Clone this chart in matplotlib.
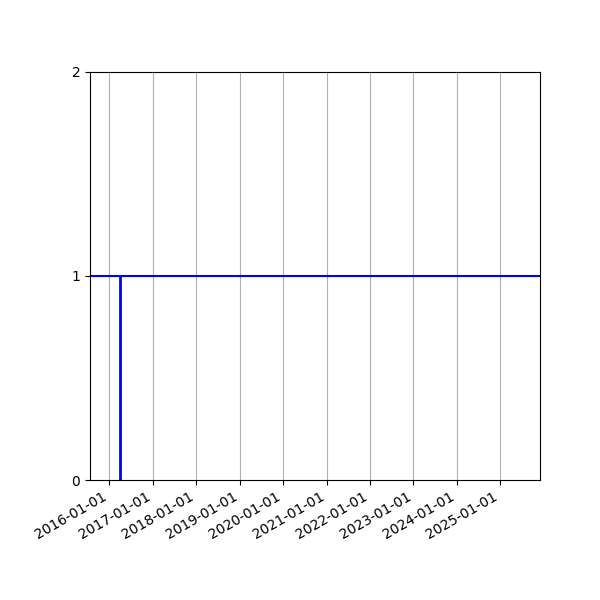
import matplotlib
matplotlib.use("Agg")
import matplotlib.pyplot as plt
import matplotlib.dates as mdates
import numpy as np

# data
event_dates = np.array(["2016-04-01"], dtype="datetime64[D]")
event_heights = [1]
baseline_level = 1
year_ticks = np.array([f"{y}-01-01" for y in range(2016, 2026)], dtype="datetime64[D]")
x_range = np.array(["2015-07-23", "2025-12-01"], dtype="datetime64[D]")
y_ticks = [0, 1, 2]

fig = plt.figure(figsize=(6, 6), dpi=100)
ax = fig.add_axes([0.15, 0.2, 0.75, 0.68])

ax.axhline(baseline_level, color="blue", lw=1.5)
ax.vlines(event_dates, 0, event_heights, color="blue", lw=2)

ax.set_xlim(x_range[0], x_range[1])
ax.set_ylim(0, 2)
ax.set_yticks(y_ticks)
ax.set_xticks(year_ticks)
ax.xaxis.set_major_formatter(mdates.DateFormatter("%Y-%m-%d"))
ax.grid(True, axis="x")

for lab in ax.get_xticklabels():
    lab.set_rotation(30)
    lab.set_ha("right")

fig.savefig("out.png", dpi=100)
